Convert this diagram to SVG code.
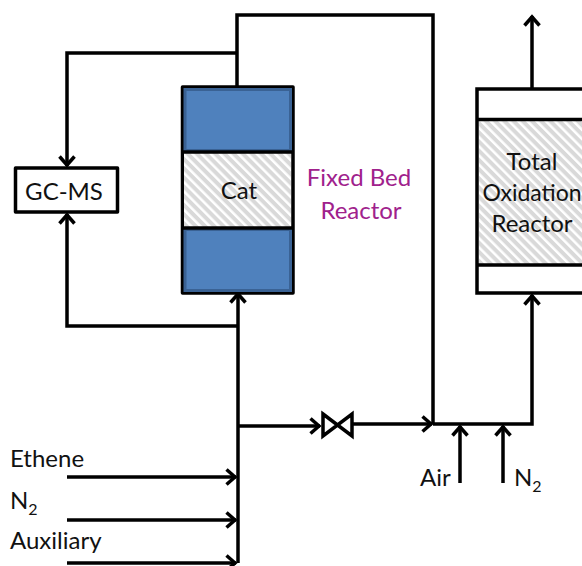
<svg xmlns="http://www.w3.org/2000/svg" width="582" height="566" viewBox="0 0 582 566">
<style>
text{font-family:"Lato","Carlito","Open Sans",sans-serif;font-size:24px;fill:#111}
.c{text-anchor:middle}
.sub{font-size:16px}
.line{fill:none;stroke:#000;stroke-width:3.500;stroke-linejoin:miter}
.box{stroke:#000;stroke-width:3.500;stroke-linejoin:round}
.blue{fill:#4f81bd;stroke:#3a6294;stroke-width:3}
</style>
<defs>
<pattern id="hatch" width="6.500" height="6.500" patternUnits="userSpaceOnUse" patternTransform="rotate(-45)">
<rect width="6.500" height="6.500" fill="#d9d9d9"/><rect x="0" width="2.500" height="6.500" fill="#fff"/>
</pattern>
<marker id="arr" markerUnits="userSpaceOnUse" markerWidth="20" markerHeight="20" refX="14" refY="10" orient="auto" overflow="visible">
<path d="M4.500 2.500L13 10L4.500 17.500" fill="none" stroke="#000" stroke-width="3.500"/>
</marker>
</defs>
<rect width="582" height="566" fill="#fff"/>
<g id="connectors">
<path class="line" d="M237 87V15H433V424"/>
<path class="line" d="M237 53H67V166" marker-end="url(#arr)"/>
<path class="line" d="M238 326H67V214" marker-end="url(#arr)"/>
<path class="line" d="M238 563V293" marker-end="url(#arr)"/>
<path class="line" d="M238 426H320" marker-end="url(#arr)"/>
<path class="line" d="M353 424H432" marker-end="url(#arr)"/>
<path class="line" d="M433 424H532V295" marker-end="url(#arr)"/>
<path class="line" d="M532 89V16" marker-end="url(#arr)"/>
<path class="line" d="M460 483V426" marker-end="url(#arr)"/>
<path class="line" d="M503 483V426" marker-end="url(#arr)"/>
<path class="line" d="M67 477H236" marker-end="url(#arr)"/>
<path class="line" d="M67 520H236" marker-end="url(#arr)"/>
<path class="line" d="M67 563H236" marker-end="url(#arr)"/>
</g>
<g id="valve">
<path d="M323 414L352 436V414L323 436Z" fill="#fff" stroke="#000" stroke-width="3.500"/>
</g>
<g id="gcms">
<rect class="box" x="15.500" y="168" width="102" height="44" fill="#fff"/>
<text class="c" x="64" y="200">GC-MS</text>
</g>
<g id="fixed-bed-reactor">
<rect class="box" x="182.500" y="87" width="110.500" height="206" fill="#fff"/>
<rect class="blue" x="185" y="89.500" width="105.500" height="61"/>
<rect class="blue" x="185" y="229.500" width="105.500" height="61"/>
<rect x="184" y="153" width="107" height="74" fill="url(#hatch)"/>
<path class="line" d="M182.500 152H293M182.500 228H293"/>
<text class="c" x="239" y="199">Cat</text>
</g>
<g id="fixed-bed-label">
<text class="c" x="359" y="186" style="fill:#a0218c">Fixed Bed</text>
<text class="c" x="361" y="219" style="fill:#a0218c">Reactor</text>
</g>
<g id="total-oxidation-reactor">
<rect x="479" y="121" width="103" height="143" fill="url(#hatch)"/>
<path class="line" d="M582 89H477V293H582M477 119.500H582M477 265H582"/>
<text class="c" x="532" y="170">Total</text>
<text class="c" x="532" y="201" style="font-size:23px">Oxidation</text>
<text class="c" x="532" y="232">Reactor</text>
</g>
<g id="labels">
<text x="10" y="467">Ethene</text>
<text x="10" y="509">N<tspan class="sub" dy="6">2</tspan></text>
<text x="10" y="549">Auxiliary</text>
<text x="420" y="486">Air</text>
<text x="514" y="486">N<tspan class="sub" dy="6">2</tspan></text>
</g>
</svg>
